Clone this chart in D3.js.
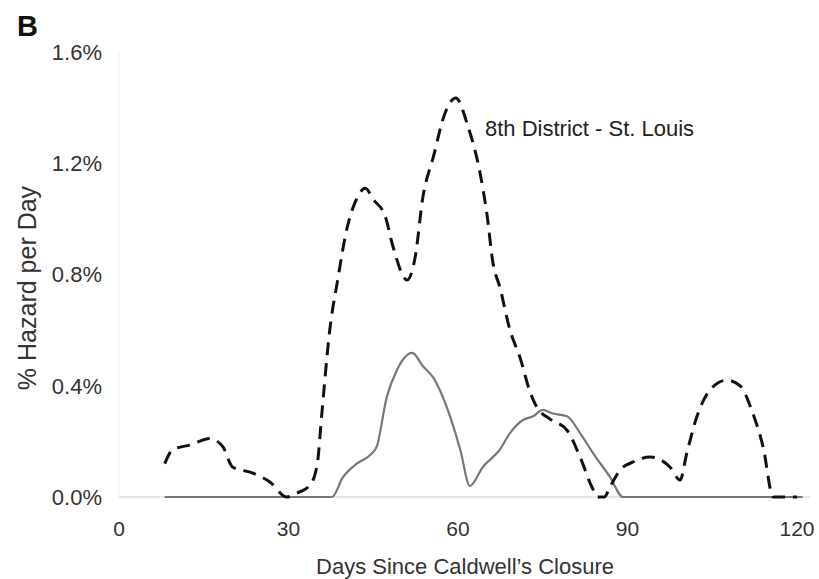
<!DOCTYPE html>
<html>
<head>
<meta charset="utf-8">
<script src="https://cdn.jsdelivr.net/npm/d3@7"></script>
<style>
  body { margin: 0; background: #fff; }
  svg { font-family: "Liberation Sans", Arial, sans-serif; }
</style>
</head>
<body>
<svg id="chart" width="819" height="579"></svg>
<script>
// days since closure / hazard (%) - 8th District St. Louis (dashed)
var stlDays = [8.1, 9.5, 12.6, 16.1, 18.4, 20.1, 23.7, 26.7, 29.7, 31.5, 33.8, 35.1, 35.9, 37.3, 38.7, 40.4, 41.8, 43.6, 45.0, 47.1, 48.5, 51.0, 52.4, 53.8, 55.6, 57.7, 59.6, 61.8, 63.9, 65.1, 66.2, 67.4, 69.2, 71.0, 72.8, 73.9, 76.3, 79.3, 81.6, 83.7, 84.7, 85.9, 86.9, 88.7, 91.0, 94.0, 97.5, 99.3, 100.5, 102.3, 104.6, 107.6, 109.9, 112.2, 114.0, 115.8, 118.0, 120];
var stlVals = [0.12, 0.17, 0.187, 0.21, 0.18, 0.108, 0.086, 0.054, 0.0, 0.014, 0.043, 0.12, 0.30, 0.60, 0.78, 0.97, 1.06, 1.11, 1.07, 1.01, 0.90, 0.78, 0.86, 1.08, 1.22, 1.38, 1.435, 1.33, 1.165, 1.02, 0.84, 0.755, 0.60, 0.50, 0.375, 0.325, 0.28, 0.24, 0.144, 0.036, 0.0, 0.0, 0.036, 0.097, 0.126, 0.144, 0.108, 0.061, 0.158, 0.29, 0.385, 0.42, 0.40, 0.30, 0.18, 0.0, 0.0, 0.0];

// comparison (solid grey)
var otherDays = [8.1, 37.7, 39.6, 42.1, 44.4, 45.6, 47.4, 49.2, 51.9, 53.8, 55.6, 58.0, 60.4, 62.1, 64.4, 67.4, 69.2, 71.5, 73.3, 75.0, 76.8, 79.3, 81.6, 83.9, 86.9, 89.2, 121];
var otherVals = [0, 0, 0.07, 0.12, 0.15, 0.18, 0.36, 0.457, 0.518, 0.47, 0.43, 0.324, 0.17, 0.04, 0.108, 0.17, 0.23, 0.277, 0.29, 0.313, 0.30, 0.29, 0.23, 0.158, 0.072, 0, 0];

var xTicks = [0, 30, 60, 90, 120];
var yTicks = [0, 0.4, 0.8, 1.2, 1.6];

var svg = d3.select("#chart");
var x = d3.scaleLinear().domain([0, 120]).range([119, 797]);
var y = d3.scaleLinear().domain([0, 1.6]).range([497, 52]);

// faint axes
svg.append("line").attr("x1", x(0)).attr("x2", 810).attr("y1", y(0)).attr("y2", y(0))
  .attr("stroke", "#ddd").attr("stroke-width", 1.5);
svg.append("line").attr("x1", x(0)).attr("x2", x(0)).attr("y1", y(1.6)).attr("y2", y(0))
  .attr("stroke", "#eee").attr("stroke-width", 1);

svg.selectAll(".ylab").data(yTicks).enter().append("text")
  .attr("x", 102).attr("y", function(d) { return y(d); }).attr("dy", "0.36em")
  .attr("text-anchor", "end").attr("font-size", 22).attr("fill", "#333")
  .text(function(d) { return d3.format(".1f")(d) + "%"; });

svg.selectAll(".xlab").data(xTicks).enter().append("text")
  .attr("x", function(d) { return x(d); }).attr("y", 536)
  .attr("text-anchor", "middle").attr("font-size", 21).attr("fill", "#333")
  .text(function(d) { return d; });

svg.append("text").attr("x", 465).attr("y", 574).attr("text-anchor", "middle")
  .attr("font-size", 22).attr("fill", "#333").text("Days Since Caldwell\u2019s Closure");

svg.append("text").attr("transform", "translate(36,288) rotate(-90)")
  .attr("text-anchor", "middle").attr("font-size", 25).attr("fill", "#333")
  .text("% Hazard per Day");

svg.append("text").attr("x", 17).attr("y", 36).attr("font-size", 29)
  .attr("font-weight", "bold").attr("fill", "#111").text("B");

var line = d3.line()
  .x(function(d) { return x(d[0]); })
  .y(function(d) { return y(d[1]); })
  .curve(d3.curveMonotoneX);

svg.append("path").datum(d3.zip(otherDays, otherVals))
  .attr("d", line).attr("fill", "none").attr("stroke", "#777").attr("stroke-width", 2.2);

svg.append("path").datum(d3.zip(stlDays, stlVals))
  .attr("d", line).attr("fill", "none").attr("stroke", "#111").attr("stroke-width", 3)
  .attr("stroke-dasharray", "13,8");

svg.append("text").attr("x", 485).attr("y", 136).attr("font-size", 22).attr("fill", "#222")
  .text("8th District - St. Louis");
</script>
</body>
</html>
